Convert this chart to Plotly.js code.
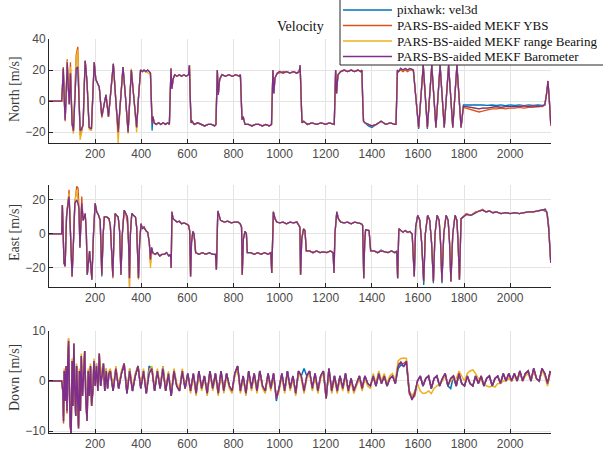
<!DOCTYPE html>
<html>
<head>
<meta charset="utf-8">
<script src="https://cdn.plot.ly/plotly-3.0.1.min.js"></script>
<style>html,body{margin:0;padding:0;background:#fff;}#chart{width:603px;height:464px;}</style>
</head>
<body>
<div id="chart"></div>
<script>
// ---------- series names / colours ----------
const seriesNames = ['pixhawk: vel3d', 'PARS-BS-aided MEKF YBS', 'PARS-BS-aided MEKF range Bearing', 'PARS-BS-aided MEKF Barometer'];
const seriesColors = ['#0072BD', '#D95319', '#EDB120', '#7E2F8E'];
const xTicks = [200, 400, 600, 800, 1000, 1200, 1400, 1600, 1800, 2000];

// ---------- North ----------
const tN = [0,55,58,62,66,70,74,79,84,88,
93,100,106,112,118,125,130,135,142,148,
153,157,165,174,184,190,196,203,210,218,
229,240,247,258,268,279,290,300,310,321,
332,343,350,357,368,380,388,397,405,412,
420,428,435,440,444,447,451,456,465,475,
485,495,505,515,522,526,529,533,538,545,
555,565,575,585,595,605,609,612,616,620,
630,645,660,675,690,705,718,724,727,730,
734,740,750,765,780,795,810,825,830,833,
837,842,850,865,880,895,910,925,940,955,
965,968,971,975,980,990,1000,1015,1030,1045,
1060,1075,1085,1089,1093,1097,1105,1120,1140,1160,
1180,1200,1215,1230,1237,1240,1243,1247,1253,1265,
1280,1295,1310,1325,1340,1352,1357,1361,1364,1370,
1385,1400,1420,1440,1460,1480,1500,1505,1508,1511,
1516,1525,1535,1545,1555,1565,1580,1603,1623,1641,
1660,1678,1696,1714,1733,1751,1769,1787,1797,1810,
1830,1850,1865,1880,1900,1920,1940,1960,1980,2000,
2020,2040,2060,2080,2100,2120,2140,2150,2158,2164,
2170,2176];

const nPix = [0,0,8,21,2,-12,2,24,8,-2,
18,-14,-19,5,21,22,0,-19,-18,-15,
10,26,12,-17,-18,0,25,14,12,9,
-10,0,4,-10,8,24,0,-20,0,22,
2,-20,0,20,2,-17,2,20,19,20,
19,20,19,18,0,-19,-10,-14,-15,-14,
-15,-14,-15,-14,-15,2,21,8,14,17,
16,17,16,17,16,17,23,5,-14,-13,
-15,-14,-15,-16,-15,-15,-16,-15,3,20,
4,14,17,16,17,16,17,16,17,-3,
-12,-10,-15,-15,-16,-15,-15,-16,-15,-16,
-15,2,20,5,15,18,19,18,19,18,
19,18,19,23,4,-14,-13,-15,-14,-15,
-14,-15,-14,-15,-15,2,20,5,17,19,
20,19,20,19,20,19,20,-3,-13,-14,
-16,-17,-15,-13,-15,-14,-15,-15,3,20,
19,21,20,21,20,21,20,-18,23,-18,
23,-17,23,-17,23,-17,23,-17,-2.5,-2.5,
-2.5,-2.2,-2.5,-2.5,-2.8,-2.5,-2.8,-2.5,-3,-2.5,
-2.8,-2.5,-3,-2.5,-2.8,-2.5,-2.8,-2.5,5,12,
0,-14];

const nYBS = [0,0,8,22,2,-13,2,27,8,-2,
25,-15,-20,5,30,35,10,-22,-19,-15,
10,26,12,-17,-18,0,25,14,12,9,
-10,0,4,-10,8,24,0,-21,0,22,
2,-20,0,20,2,-17,2,20,19,20,
19,20,19,18,0,-14,-10,-14,-15,-14,
-15,-14,-15,-14,-15,2,21,8,14,17,
16,17,16,17,16,17,23,5,-14,-13,
-15,-14,-15,-16,-15,-15,-16,-15,3,20,
4,14,17,16,17,16,17,16,17,-3,
-12,-10,-15,-15,-16,-15,-15,-16,-15,-16,
-15,2,20,5,15,18,18,19,19,18,
19,18,19,23,4,-14,-13,-15,-14,-15,
-14,-15,-14,-15,-15,2,20,5,17,19,
20,19,20,19,20,19,20,-3,-13,-14,
-15,-16,-15,-13,-15,-14,-15,-15,3,20,
19,20,19,20,19,20,20,-17,23,-17,
23,-17,23,-17,23,-17,23,-17,-4,-4.5,
-5.5,-6.5,-7,-6.5,-5.5,-5,-5,-4.5,-5,-4.5,
-4.5,-4,-4.5,-4,-4,-3.5,-3.5,-2.5,5,13,
0,-16];

const nRB = [0,0,8,20,2,-12,2,26,8,-2,
22,-14,-21,5,28,33,5,-25,-20,-15,
10,25,12,-18,-19,0,25,14,12,9,
-11,0,4,-10,8,23,0,-27,0,21,
2,-21,0,21,2,-20,2,20,19,20,
19,18,17,17,0,-14,-10,-14,-15,-14,
-15,-14,-15,-14,-15,2,21,8,14,17,
16,17,16,17,16,17,23,5,-14,-13,
-15,-14,-15,-16,-15,-15,-16,-15,3,20,
4,14,17,16,17,16,17,16,17,-3,
-12,-10,-15,-15,-16,-15,-15,-16,-15,-16,
-15,2,20,5,15,18,19,18,19,18,
19,18,19,23,4,-14,-13,-15,-14,-15,
-14,-15,-14,-15,-15,2,20,5,17,19,
20,19,20,19,20,19,20,-3,-13,-14,
-15,-16,-15,-13,-15,-14,-15,-15,3,20,
19,21,20,21,20,21,20,-17,23,-17,
23,-17,23,-17,23,-17,23,-17,-3.5,-3.5,
-4,-4.5,-5,-4.5,-4.5,-4,-3.5,-4,-3.5,-3.5,
-3.5,-3.5,-3,-3.5,-3,-3.5,-3,-2.5,5,12,
0,-15];

const nBaro = [0,0,8,21,2,-12,2,25,8,-2,
18,-14,-19,5,21,22,0,-19,-18,-15,
10,26,12,-17,-18,0,25,14,12,9,
-10,0,4,-10,8,24,0,-20,0,22,
2,-20,0,20,2,-17,2,20,19,20,
19,20,19,18,0,-14,-10,-14,-15,-14,
-15,-14,-15,-14,-15,2,21,8,14,17,
16,17,16,17,16,17,23,5,-14,-13,
-15,-14,-15,-16,-15,-15,-16,-15,3,20,
4,14,17,16,17,16,17,16,17,-3,
-12,-10,-15,-15,-16,-15,-15,-16,-15,-16,
-15,2,20,5,15,18,19,18,19,18,
19,18,19,23,4,-14,-13,-15,-14,-15,
-14,-15,-14,-15,-15,2,20,5,17,19,
20,19,20,19,20,19,20,-3,-13,-14,
-15,-16,-15,-13,-15,-14,-15,-15,3,20,
19,21,20,21,20,21,20,-17,23,-17,
23,-17,23,-17,23,-17,23,-17,-3.5,-3.5,
-4,-4.5,-5,-4.5,-4.5,-4,-3.5,-4,-3.5,-3.5,
-3.5,-3.5,-3,-3.5,-3,-3.5,-3,-2.5,5,13,
0,-15];

// ---------- East ----------
const tE = [0,55,58,62,65,70,76,82,87,92,
100,106,112,120,126,130,134,138,142,148,
153,157,162,166,176,186,193,200,207,215,
222,229,235,240,250,260,266,272,277,282,
287,293,300,306,312,318,326,333,340,345,
349,353,359,366,375,380,388,393,399,405,
412,420,428,435,440,445,450,460,470,480,
490,500,510,520,527,530,533,538,545,555,
565,575,585,595,605,610,614,618,624,629,
636,650,665,680,695,710,722,726,732,744,
760,775,790,805,820,829,835,838,843,850,
856,860,875,890,905,920,935,950,962,966,
973,980,988,1000,1015,1030,1045,1060,1075,1083,
1088,1091,1096,1104,1110,1116,1130,1145,1160,1175,
1190,1205,1220,1232,1236,1240,1248,1255,1265,1280,
1295,1310,1325,1340,1355,1360,1365,1369,1373,1388,
1395,1410,1425,1440,1455,1470,1485,1500,1508,1512,
1517,1525,1535,1545,1555,1565,1575,1584,1590,1599,
1608,1616,1625,1632,1642,1651,1659,1667,1674,1683,
1692,1698,1704,1712,1722,1731,1737,1743,1751,1761,
1769,1774,1780,1787,1795,1810,1830,1850,1865,1880,
1895,1910,1925,1940,1960,1980,2000,2020,2040,2060,
2080,2100,2120,2140,2152,2160,2167,2176];

const ePix = [0,0,17,0,-17,-19,10,18,22,5,
-25,-5,18,20,18,15,-8,5,18,8,
10,12,0,-24,-10,-26,0,18,13,11,
8,-25,0,10,10,9,5,-10,-25,0,
12,11,10,2,-24,0,14,12,10,-5,
-26,0,12,11,10,4,-26,-5,6,3,
4,2,1,-5,-15,-8,-11,-12,-11,-13,
-12,-12,-11,-13,-12,-20,13,9,8,7,
7.5,6,6.5,6,5,2,-25,-5,1.5,0,
-11,-12,-11,-12,-11,-12,-12,-21,13.5,8,
7,7.5,6.5,7,7,6,4,-24,-3,1.5,
0,-11,-11,-12,-11,-12,-11,-12,-11,-23,
13,9,7,6.5,7,6,7,6.5,7,5,
4,-24,-3,3,2,-10,-10,-11,-10,-11,
-10.5,-11,-10,-11,-23,0,13,9,7,6.5,
7,6,7,6.5,6,5,-26,-5,2.5,2,
-10,-10,-11,-9.5,-10.5,-11,-10,-11,-10,-26,
3,2,1,2,1,1.5,0,-25,4,11,
8,-5,-30,0,11,8,-5,-29,0,11,
8,-5,-29,0,11,8,-5,-28,0,11,
8,-5,-27,9,10,11.5,11,12.5,13.5,14,
13,13.5,12.5,13,12,12.5,12,12.5,12,12.5,
13,13,13.5,14,13.5,13,5,-17];

const eYBS = [0,0,17,0,-17,-19,10,18,26,5,
-25,-5,18,28,27,15,-8,5,22,8,
10,12,0,-24,-10,-27,0,18,13,11,
8,-24,0,10,10,9,5,-10,-26,0,
12,11,10,2,-24,0,14,12,6,-5,
-31,0,12,11,10,4,-26,-5,6,3,
4,2,1,-5,-17,-8,-11,-12,-11,-13,
-12,-12,-11,-13,-12,-20,13,9,8,7,
7.5,6,6.5,6,5,2,-25,-5,1.5,0,
-11,-12,-11,-12,-11,-12,-12,-21,13.5,8,
7,7.5,6.5,7,7,6,4,-24,-3,1.5,
0,-11,-11,-12,-11,-12,-11,-12,-11,-23,
13,9,7,6.5,7,6,7,6.5,7,5,
4,-24,-3,3,2,-10,-10,-11,-10,-11,
-10.5,-11,-10,-11,-23,0,13,9,7,6.5,
7,6,7,6.5,6,5,-26,-5,2.5,2,
-10,-10,-11,-10,-10.5,-11,-10,-11,-10,-26,
3,2,1,2,1,1.5,0,-25,4,11,
8,-5,-28,0,11,8,-5,-28,0,11,
8,-5,-28,0,11,8,-5,-28,0,11,
8,-5,-27,9,10,12,11,13,13.5,14.5,
13,13.5,12.5,13,12,12.5,12,12.5,12,12.5,
13,13,13.5,14,14.5,12,3,-17];

const eRB = [0,0,17,0,-17,-19,10,18,24,5,
-25,-5,18,26,18,15,-8,5,18,8,
10,12,0,-24,-10,-27,0,18,13,11,
8,-24,0,10,10,9,5,-10,-25,0,
12,11,10,2,-24,0,14,12,10,-5,
-31,0,12,11,10,4,-27,-5,6,3,
4,2,1,-5,-20,-12,-11,-12,-11,-13,
-12,-12,-11,-13,-12,-20,13,9,8,7,
7.5,6,6.5,6,5,2,-25,-5,1.5,0,
-11,-12,-11,-12,-11,-12,-12,-21,13.5,8,
7,7.5,6.5,7,7,6,4,-24,-3,1.5,
0,-11,-11,-12,-11,-12,-11,-12,-11,-23,
13,9,7,6.5,7,6,7,6.5,7,5,
4,-24,-3,3,2,-10,-10,-11,-10,-11,
-10.5,-11,-10,-11,-23,0,13,9,7,6.5,
7,6,7,6.5,6,5,-26,-5,2.5,2,
-10,-10,-11,-10,-10.5,-11,-10,-11,-10,-26,
3,2,1,2,1,1.5,0,-25,4,11,
8,-5,-28,0,11,8,-5,-28,0,11,
8,-5,-28,0,11,8,-5,-28,0,11,
8,-5,-27,9,10,11.5,11,12.5,13.5,14,
13,13.5,12.5,13,12,12.5,12,12.5,12,12.5,
13,13,13.5,14,14.5,12,3,-17];

const eBaro = [0,0,17,0,-17,-19,10,18,22,5,
-25,-5,18,20,18,15,-8,5,18,8,
10,12,0,-24,-10,-27,0,18,13,11,
8,-24,0,10,10,9,5,-10,-25,0,
12,11,10,2,-24,0,14,12,10,-5,
-26,0,12,11,10,4,-26,-5,6,3,
4,2,1,-5,-15,-8,-11,-12,-11,-13,
-12,-12,-11,-13,-12,-20,13,9,8,7,
7.5,6,6.5,6,5,2,-25,-5,1.5,0,
-11,-12,-11,-12,-11,-12,-12,-21,13.5,8,
7,7.5,6.5,7,7,6,4,-24,-3,1.5,
0,-11,-11,-12,-11,-12,-11,-12,-11,-23,
13,9,7,6.5,7,6,7,6.5,7,5,
4,-24,-3,3,2,-10,-10,-11,-10,-11,
-10.5,-11,-10,-11,-23,0,13,9,7,6.5,
7,6,7,6.5,6,5,-26,-5,2.5,2,
-10,-10,-11,-10,-10.5,-11,-10,-11,-10,-26,
3,2,1,2,1,1.5,0,-25,4,11,
8,-5,-28,0,11,8,-5,-28,0,11,
8,-5,-28,0,11,8,-5,-28,0,11,
8,-5,-27,9,10,11.5,11,12.5,13.5,14,
13,13.5,12.5,13,12,12.5,12,12.5,12,12.5,
13,13,13.5,14,14.5,12,3,-17];

// ---------- Down ----------
// sample clock: an irregular start-up part, then a regular logging interval
function sampleClock(start, step, n) { const r = []; for (let i = 0; i < n; i++) r.push(start + i * step); return r; }
const tDStart = [0,55,60,63,66,70,74,78,82,85,
89,92,96,100,104,108,112,116,120,124,
128,132,136,140,145,150,155,160,165,170,
175,180,185,190,195,200,206,212,218,224,
230,236,242,248,254,260];
const tD = tDStart.concat(sampleClock(266, 12, 160));

const dPix = [0,0,-2,-7,2,-4,3,-6,5,7,
-3,-8,-10,4,-5,7,-2,-7,3,-4,
-9,2,-6,5,-3,1.5,6,-4,-7.5,2,
-3,3,-4.5,-2,4,-1,3.5,-2,5,-1,
2,3.5,-2,2.5,-1.5,1.5,
2,-2,2.5,-1.5,1.5,3,-2.5,2.5,-2,1,3,-1.5,
2,-2.5,3,2.5,-2,2,-1.5,3,-2,1.5,-3,2,-1,-2,2,-1.5,
1.5,-2,1.5,-2.5,2,-1.5,1,-2.5,2,-1.5,1.5,-2.5,2,-2,1.5,-1,-2,
1.5,3,-2,1,-2.5,2,-1.5,1.5,-2,2,-1,-2,1.5,-1.5,1.5,-4,-1.5,
1.5,-2,2,-1.5,1,-2.5,2,1,2.5,1,2,-1.5,1.5,-2,1,2,-3.5,
2.5,-2,1,-2,1,-1.5,1.5,-2,0.5,-2,-0.5,1,-1.5,1,-0.5,-1,
1,-1,1.5,-0.5,1,-1,0.5,1,-0.5,
2.5,3.2,3,3.5,
-2,-3,-2.5,0,
1,-1,0.5,1,-1.5,0.5,1,-1,0.5,1.5,-1,-1.5,1,-1,1.5,-0.5,
-1,1,-0.5,-1,1,-0.5,1,-1,0.5,1,-1,0.5,1,-0.5,1.5,0,1.5,
0,1.5,0,2,0,1.5,2,0,2.5,0.5,0,2.5,1.5,-0.5,2];

const dYBS = [0,0,-2,-8.5,2,-4,3,-6.5,5,8.5,
-3,-9,-10.5,4,-5,7.5,-2,-7,3,-4,
-9.5,2,-6,5,-3,1,6,-4,-8,2,
-3,3,-5,-2,4,-1,3,-2,5.5,-1,
2,3.5,-2,2,-1.5,1.5,
2,-2,2.5,-1.5,1.5,3.5,-2.5,2,-2,1,3,-1.5,
2,-2.5,1.5,2.5,-2,2,-1.5,2.5,-2,1.5,-3,2,-1,-2,2,-1.5,
1.5,-2,1.5,-2.5,2,-1.5,1,-2.5,2,-1.5,1.5,-2.5,2,-2,1.5,-1,-2,
1.5,3,-2,1,-2.5,2,-1.5,1.5,-2,2,-1,-2,1.5,-1.5,1.5,-3.5,-1.5,
1.5,-2,2,-1.5,1,-2.5,2,1,-2,1,2,-1.5,1.5,-2,1,2,-3.5,
2.5,-2,1,-2,1,-1.5,1.5,-2,0.5,-2,-0.5,1,-1.5,1,-0.5,-1,
1,-1,1.5,-0.5,1,-1,0.5,1,-0.5,
3.5,3.5,3.5,4,
-2.5,-3.5,-3,0,
1,-1,0.5,1,-1.5,0.5,1,-1,0.5,1.5,-1,0.5,1,-1,1.5,-0.5,
-1,1,-0.5,-1,1,-0.5,1,-1,0.5,1,-1,0.5,1,-0.5,1.5,0,1.5,
0,1.5,0,2,0,1.5,2,0,2.5,0.5,0,2.5,1.5,-0.5,2];

const dRB = [0,0,-2,-8,2.5,-4,3,-6,5.5,8.5,
-3,-9,-10,4.5,-5,7.5,-2,-7,3.5,-4,
-9,2.5,-6,5.5,-3,1.5,6,-4,-8,2.5,
-3,3.5,-5,-2,4.5,-1,3.5,-2,5.5,-0.5,
2.5,3.5,-1.5,2.5,-1,2,
2.5,-1.5,3,-1,2,3.5,-2,2.5,-1.5,1.5,3,-1,
2.5,-2,2,3,-1.5,2.5,-1,3,-1.5,2,-2.5,2.5,-0.5,-1.5,2.5,-1,
1,-2.5,1,-3,1.5,-2,0.5,-3,1.5,-2,1,-3,1.5,-2.5,1,-1.5,-2.5,
1,2.5,-2.5,0.5,-3,1.5,-2,1,-2.5,1.5,-1.5,-2.5,1,-2,1,-3.5,-2,
1,-2.5,1.5,-2,0.5,-3,1.5,0.5,-2.5,0.5,1.5,-2,1,-2.5,0.5,1.5,-3.5,
2,-2.5,0.5,-2.5,0.5,-2,1,-2.5,0,-2.5,-1,0.5,-2,0.5,-1,-1.5,
1.5,-0.5,2,0,1.5,-0.5,1,1.5,0,
4,4.5,4.6,4.5,
-2,-3,-2,-0.5,
-2,-2.5,-2.4,-2,-2.5,-1.5,-1,-0.5,0,1,-0.5,0,0.5,0.5,2,1,
0,1.5,2,2.2,1.5,0.5,0,-0.5,-1,-1.2,-1,-1.2,-0.5,-0.5,0,0,0.5,
0,1,0,1.5,0,1,1.5,0,2,0.5,0,2,1,-1,1.5];

const dBaro = [0,0,-2,-8,2,-4,3,-6,5,8,
-3,-9,-10.5,4,-5,7.5,-2,-7,3,-4,
-9.5,2,-6,5,-3,1,6,-4,-8,2,
-3,3,-5,-2,4,-1,3,-2,5.5,-1,
2,3.5,-2,2,-1.5,1.5,
2,-2,2.5,-1.5,1.5,3.5,-2.5,2,-2,1,3,-1.5,
2,-2.5,1.5,2.5,-2,2,-1.5,2.5,-2,1.5,-3,2,-1,-2,2,-1.5,
1.5,-2,1.5,-2.5,2,-1.5,1,-2.5,2,-1.5,1.5,-2.5,2,-2,1.5,-1,-2,
1.5,3,-2,1,-2.5,2,-1.5,1.5,-2,2,-1,-2,1.5,-1.5,1.5,-3.5,-1.5,
1.5,-2,2,-1.5,1,-2.5,2,1,-2,1,2,-1.5,1.5,-2,1,2,-3.5,
2.5,-2,1,-2,1,-1.5,1.5,-2,0.5,-2,-0.5,1,-1.5,1,-0.5,-1,
1,-1,1.5,-0.5,1,-1,0.5,1,-0.5,
3,3.8,2.8,4,
-2,-3.8,-2.5,0,
1,-1,0.5,1,-1.5,0.5,1,-1,0.5,1.5,-1,0.5,1,-1,1.5,-0.5,
-1,1,-0.5,-1,1,-0.5,1,-1,0.5,1,-1,0.5,1,-0.5,1.5,0,1.5,
0,1.5,0,2,0,1.5,2,0,2.5,0.5,0,2.5,1.5,-0.5,2];

// ---------- build traces ----------
const panels = [
  {t: tN, v: [nPix, nYBS, nRB, nBaro], xa: 'x', ya: 'y', w: 1.3},
  {t: tE, v: [ePix, eYBS, eRB, eBaro], xa: 'x2', ya: 'y2', w: 1.3},
  {t: tD, v: [dPix, dYBS, dRB, dBaro], xa: 'x3', ya: 'y3', w: 1.5}
];
const traces = [];
panels.forEach(p => {
  for (let s = 0; s < 4; s++) {
    traces.push({
      type: 'scatter', mode: 'lines', x: p.t, y: p.v[s],
      xaxis: p.xa, yaxis: p.ya, name: seriesNames[s], showlegend: false,
      line: {color: seriesColors[s], width: p.w}, hoverinfo: 'skip'
    });
  }
});

const tickFont = {family: 'Liberation Sans, Arial, sans-serif', size: 12, color: '#4a4a4a'};
function xAxis(anchor) {
  return {anchor: anchor, domain: [0, 1], range: [0, 2177], tickvals: xTicks, ticks: 'inside', ticklen: 4,
    tickcolor: '#262626', showline: true, linecolor: '#262626', linewidth: 1, showgrid: true,
    gridcolor: '#e4e4e4', gridwidth: 1, zeroline: false, tickfont: tickFont, automargin: false};
}
function yAxis(anchor, domain, range, vals) {
  return {anchor: anchor, domain: domain, range: range, tickvals: vals, ticks: 'inside', ticklen: 4,
    tickcolor: '#262626', showline: true, linecolor: '#262626', linewidth: 1, showgrid: true,
    gridcolor: '#e4e4e4', gridwidth: 1, zeroline: false, tickfont: tickFont, automargin: false};
}

// plot area: x 49..551 px, y 39..433 px
const W = 502, H = 394, L = 49, T = 39;
const px = v => (v - L) / W;
const py = v => (T + H - v) / H;

const serif = 'Liberation Serif, Times New Roman, serif';
const legendRows = [10, 25.5, 41, 56.5];
const shapes = [
  {type: 'rect', xref: 'paper', yref: 'paper', x0: px(340), x1: px(610), y0: py(65), y1: py(-2),
   fillcolor: '#ffffff', line: {color: '#262626', width: 1}, layer: 'above'}
];
const annotations = [];
legendRows.forEach((r, i) => {
  shapes.push({type: 'line', xref: 'paper', yref: 'paper', x0: px(343), x1: px(392), y0: py(r), y1: py(r),
    line: {color: seriesColors[i], width: 1.5}, layer: 'above'});
  annotations.push({xref: 'paper', yref: 'paper', x: px(395), y: py(r), xanchor: 'left', yanchor: 'middle',
    text: seriesNames[i], showarrow: false, font: {family: serif, size: 13, color: '#111'}});
});
const yLabels = [['North [m/s]', 89], ['East [m/s]', 233], ['Down [m/s]', 378]];
yLabels.forEach(l => {
  annotations.push({xref: 'paper', yref: 'paper', x: px(14), y: py(l[1]), xanchor: 'center', yanchor: 'middle',
    text: l[0], textangle: -90, showarrow: false, font: {family: serif, size: 14, color: '#3a3a3a'}});
});
annotations.push({xref: 'paper', yref: 'paper', x: px(300), y: py(26), xanchor: 'center', yanchor: 'middle',
  text: 'Velocity', showarrow: false, font: {family: serif, size: 14, color: '#111'}});

const layout = {
  width: 603, height: 464, paper_bgcolor: '#fff', plot_bgcolor: '#fff',
  margin: {l: 49, r: 52, t: 39, b: 31, pad: 0},
  showlegend: false,
  xaxis: xAxis('y'), xaxis2: xAxis('y2'), xaxis3: xAxis('y3'),
  yaxis: yAxis('x', [0.7360, 1], [-27, 40], [-20, 0, 20, 40]),
  yaxis2: yAxis('x2', [0.3706, 0.6294], [-31.2, 28.8], [-20, 0, 20]),
  yaxis3: yAxis('x3', [0, 0.2589], [-10.4, 10], [-10, 0, 10]),
  shapes: shapes, annotations: annotations
};
Plotly.newPlot('chart', traces, layout, {displayModeBar: false, staticPlot: true});
</script>
</body>
</html>
